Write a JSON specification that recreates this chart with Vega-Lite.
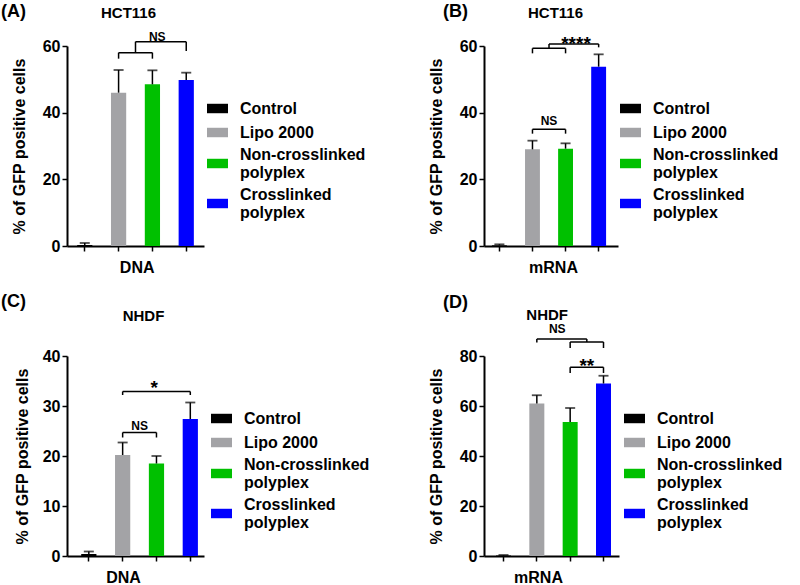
{
  "$schema": "https://vega.github.io/schema/vega-lite/v6.json",
  "background": "white",
  "padding": {"left": 1, "top": 3, "right": 0, "bottom": 0},
  "config": {
    "view": {"stroke": null},
    "font": "Liberation Sans",
    "axis": {"domainColor": "black", "domainWidth": 2, "tickColor": "black", "tickWidth": 1.5, "tickSize": 5, "labelFont": "Liberation Sans", "labelFontSize": 16, "labelFontWeight": "bold", "labelColor": "black", "labelPadding": 2, "titleFont": "Liberation Sans", "titleFontSize": 16, "titleFontWeight": "bold", "titleColor": "black", "grid": false},
    "legend": {"labelFont": "Liberation Sans", "labelFontSize": 16, "labelFontWeight": "bold", "labelColor": "black", "labelOffset": 12, "labelLimit": 300, "symbolStrokeWidth": 0, "rowPadding": 5, "padding": 0},
    "title": {"font": "Liberation Sans", "fontSize": 18, "fontWeight": "bold", "color": "black"}
  },
  "datasets": {
    "a_bars": [
      {"group": "Control", "value": 0.3, "upper": 0.9},
      {"group": "Lipo 2000", "value": 46.0, "upper": 52.8},
      {"group": "Non-crosslinked polyplex", "value": 48.5, "upper": 52.7},
      {"group": "Crosslinked polyplex", "value": 49.8, "upper": 52.0}
    ],
    "b_bars": [
      {"group": "Control", "value": 0.2, "upper": 0.5},
      {"group": "Lipo 2000", "value": 29.0, "upper": 31.6},
      {"group": "Non-crosslinked polyplex", "value": 29.2, "upper": 30.8},
      {"group": "Crosslinked polyplex", "value": 53.8, "upper": 57.5}
    ],
    "c_bars": [
      {"group": "Control", "value": 0.4, "upper": 0.9},
      {"group": "Lipo 2000", "value": 20.2, "upper": 22.7},
      {"group": "Non-crosslinked polyplex", "value": 18.5, "upper": 20.0},
      {"group": "Crosslinked polyplex", "value": 27.4, "upper": 30.7}
    ],
    "d_bars": [
      {"group": "Control", "value": 0.2, "upper": 0.4},
      {"group": "Lipo 2000", "value": 61.0, "upper": 64.3},
      {"group": "Non-crosslinked polyplex", "value": 53.6, "upper": 59.2},
      {"group": "Crosslinked polyplex", "value": 69.0, "upper": 72.1}
    ],
    "a_br": [
      {"kind": "c", "from": "Lipo 2000", "to": "Non-crosslinked polyplex", "y": 58.0, "y2": 58.0},
      {"kind": "c", "from": "Lipo 2000", "to": "Lipo 2000", "y": 58.0, "y2": 56.2},
      {"kind": "c", "from": "Non-crosslinked polyplex", "to": "Non-crosslinked polyplex", "y": 58.0, "y2": 56.2},
      {"kind": "c", "from": "Crosslinked polyplex", "to": "Crosslinked polyplex", "y": 61.3, "y2": 58.5},
      {"kind": "mh", "from": "Lipo 2000", "to": "Crosslinked polyplex", "y": 61.3, "y2": 61.3},
      {"kind": "mv", "from": "Lipo 2000", "to": "Lipo 2000", "y": 61.3, "y2": 58.0}
    ],
    "b_br": [
      {"kind": "c", "from": "Lipo 2000", "to": "Non-crosslinked polyplex", "y": 59.3, "y2": 59.3},
      {"kind": "c", "from": "Lipo 2000", "to": "Lipo 2000", "y": 59.3, "y2": 57.8},
      {"kind": "c", "from": "Non-crosslinked polyplex", "to": "Non-crosslinked polyplex", "y": 59.3, "y2": 57.8},
      {"kind": "c", "from": "Crosslinked polyplex", "to": "Crosslinked polyplex", "y": 60.6, "y2": 59.6},
      {"kind": "mh", "from": "Lipo 2000", "to": "Crosslinked polyplex", "y": 60.6, "y2": 60.6},
      {"kind": "mv", "from": "Lipo 2000", "to": "Lipo 2000", "y": 60.6, "y2": 59.3},
      {"kind": "c", "from": "Lipo 2000", "to": "Non-crosslinked polyplex", "y": 35.0, "y2": 35.0},
      {"kind": "c", "from": "Lipo 2000", "to": "Lipo 2000", "y": 35.0, "y2": 33.7},
      {"kind": "c", "from": "Non-crosslinked polyplex", "to": "Non-crosslinked polyplex", "y": 35.0, "y2": 33.7}
    ],
    "c_br": [
      {"kind": "c", "from": "Lipo 2000", "to": "Crosslinked polyplex", "y": 32.9, "y2": 32.9},
      {"kind": "c", "from": "Lipo 2000", "to": "Lipo 2000", "y": 32.9, "y2": 32.2},
      {"kind": "c", "from": "Crosslinked polyplex", "to": "Crosslinked polyplex", "y": 32.9, "y2": 32.2},
      {"kind": "c", "from": "Lipo 2000", "to": "Non-crosslinked polyplex", "y": 24.7, "y2": 24.7},
      {"kind": "c", "from": "Lipo 2000", "to": "Lipo 2000", "y": 24.7, "y2": 23.7},
      {"kind": "c", "from": "Non-crosslinked polyplex", "to": "Non-crosslinked polyplex", "y": 24.7, "y2": 23.7}
    ],
    "d_br": [
      {"kind": "c", "from": "Lipo 2000", "to": "Lipo 2000", "y": 86.8, "y2": 85.4},
      {"kind": "mh", "from": "Non-crosslinked polyplex", "to": "Lipo 2000", "y": 86.8, "y2": 86.8},
      {"kind": "mv", "from": "Non-crosslinked polyplex", "to": "Non-crosslinked polyplex", "y": 86.8, "y2": 85.6},
      {"kind": "c", "from": "Non-crosslinked polyplex", "to": "Crosslinked polyplex", "y": 85.6, "y2": 85.6},
      {"kind": "c", "from": "Non-crosslinked polyplex", "to": "Non-crosslinked polyplex", "y": 85.6, "y2": 83.2},
      {"kind": "c", "from": "Crosslinked polyplex", "to": "Crosslinked polyplex", "y": 85.6, "y2": 83.2},
      {"kind": "c", "from": "Non-crosslinked polyplex", "to": "Crosslinked polyplex", "y": 75.5, "y2": 75.5},
      {"kind": "c", "from": "Non-crosslinked polyplex", "to": "Non-crosslinked polyplex", "y": 75.5, "y2": 73.2},
      {"kind": "c", "from": "Crosslinked polyplex", "to": "Crosslinked polyplex", "y": 75.5, "y2": 73.2}
    ],
    "a_tx": [{"label": "NS", "at": "Non-crosslinked polyplex", "y": 61.5}],
    "b_tx": [{"label": "NS", "at": "Lipo 2000", "y": 36.2}, {"label": "****", "at": "Non-crosslinked polyplex", "y": 58.9}],
    "c_tx": [{"label": "NS", "at": "Lipo 2000", "y": 25.3}, {"label": "*", "at": "Non-crosslinked polyplex", "y": 32.5}],
    "d_tx": [{"label": "NS", "at": "Lipo 2000", "y": 89.2}, {"label": "**", "at": "Non-crosslinked polyplex", "y": 73.8}]
  },
  "columns": 2,
  "spacing": {"row": 110, "column": 280},
  "bounds": "flush",
  "resolve": {"scale": {"color": "independent", "x": "independent", "y": "independent"}},
  "concat": [
    {
      "width": 137, "height": 200,
      "title": {"text": "(A)", "anchor": "start", "frame": "group", "dx": -66, "offset": -16},
      "resolve": {"axis": {"x": "independent"}},
      "layer": [
        {"data": {"name": "a_bars"}, "mark": {"type": "bar"}, "encoding": {
          "x": {"field": "group", "type": "nominal", "scale": {"domain": ["Control", "Lipo 2000", "Non-crosslinked polyplex", "Crosslinked polyplex"], "paddingInner": 0.55, "paddingOuter": 0.3}, "axis": {"orient": "bottom", "title": "DNA", "labels": false, "titlePadding": 8, "titleX": 69.7}},
          "y": {"field": "value", "type": "quantitative", "title": "% of GFP positive cells", "scale": {"domain": [0, 60]}, "axis": {"values": [0, 20, 40, 60], "titlePadding": 15}},
          "color": {"field": "group", "type": "nominal", "scale": {"domain": ["Control", "Lipo 2000", "Non-crosslinked polyplex", "Crosslinked polyplex"], "range": ["#000000", "#a3a3a6", "#00c000", "#0000ff"]}, "legend": {"title": null, "orient": "none", "legendX": 140, "legendY": 52, "symbolType": "M-1,-0.45H1V0.45H-1Z", "symbolSize": 441, "symbolOpacity": 1, "labelExpr": "indexof(datum.label, ' polyplex') > 0 ? [replace(datum.label, ' polyplex', ''), 'polyplex'] : datum.label", "encode": {"labels": {"update": {"dy": {"signal": "indexof(datum.label, ' polyplex') > 0 ? -9 : 0"}}}}}}
        }},
        {"data": {"name": "a_bars"}, "mark": {"type": "rule", "color": "black", "strokeWidth": 1.5}, "encoding": {
          "x": {"field": "group", "type": "nominal", "scale": {"domain": ["Control", "Lipo 2000", "Non-crosslinked polyplex", "Crosslinked polyplex"]}, "axis": {"orient": "top", "title": "HCT116", "domain": false, "ticks": false, "labels": false, "titlePadding": 26, "titleX": 61, "titleFontSize": 15}},
          "y": {"field": "value", "type": "quantitative", "title": "% of GFP positive cells", "scale": {"domain": [0, 60]}},
          "y2": {"field": "upper"}
        }},
        {"data": {"name": "a_bars"}, "mark": {"type": "tick", "color": "black", "thickness": 1.8, "size": 10}, "encoding": {
          "x": {"field": "group", "type": "nominal", "scale": {"domain": ["Control", "Lipo 2000", "Non-crosslinked polyplex", "Crosslinked polyplex"]}, "axis": null},
          "y": {"field": "upper", "type": "quantitative", "title": "% of GFP positive cells", "scale": {"domain": [0, 60]}}
        }},
        {"data": {"name": "a_br"}, "transform": [{"filter": "datum.kind == 'c'"}], "mark": {"type": "rule", "color": "black", "strokeWidth": 1.5}, "encoding": {
          "x": {"field": "from", "type": "nominal", "bandPosition": 0.5, "scale": {"domain": ["Control", "Lipo 2000", "Non-crosslinked polyplex", "Crosslinked polyplex"]}, "axis": null},
          "x2": {"field": "to", "bandPosition": 0.5},
          "y": {"field": "y", "type": "quantitative", "title": "% of GFP positive cells", "scale": {"domain": [0, 60]}},
          "y2": {"field": "y2"}
        }},
        {"data": {"name": "a_br"}, "transform": [{"filter": "datum.kind == 'mh'"}], "mark": {"type": "rule", "color": "black", "strokeWidth": 1.5}, "encoding": {
          "x": {"field": "from", "type": "nominal", "bandPosition": 1.611, "scale": {"domain": ["Control", "Lipo 2000", "Non-crosslinked polyplex", "Crosslinked polyplex"]}, "axis": null},
          "x2": {"field": "to", "bandPosition": 0.5},
          "y": {"field": "y", "type": "quantitative", "title": "% of GFP positive cells", "scale": {"domain": [0, 60]}},
          "y2": {"field": "y2"}
        }},
        {"data": {"name": "a_br"}, "transform": [{"filter": "datum.kind == 'mv'"}], "mark": {"type": "rule", "color": "black", "strokeWidth": 1.5}, "encoding": {
          "x": {"field": "from", "type": "nominal", "bandPosition": 1.611, "scale": {"domain": ["Control", "Lipo 2000", "Non-crosslinked polyplex", "Crosslinked polyplex"]}, "axis": null},
          "y": {"field": "y", "type": "quantitative", "title": "% of GFP positive cells", "scale": {"domain": [0, 60]}},
          "y2": {"field": "y2"}
        }},
        {"data": {"name": "a_tx"}, "mark": {"type": "text", "fontSize": 12, "fontWeight": "bold", "baseline": "alphabetic", "color": "black"}, "encoding": {
          "x": {"field": "at", "type": "nominal", "bandPosition": 0.82, "scale": {"domain": ["Control", "Lipo 2000", "Non-crosslinked polyplex", "Crosslinked polyplex"]}, "axis": null},
          "y": {"field": "y", "type": "quantitative", "title": "% of GFP positive cells", "scale": {"domain": [0, 60]}},
          "text": {"field": "label"}
        }}
      ]
    },
    {
      "width": 134, "height": 200,
      "title": {"text": "(B)", "anchor": "start", "frame": "group", "dx": -41, "offset": -16},
      "resolve": {"axis": {"x": "independent"}},
      "layer": [
        {"data": {"name": "b_bars"}, "mark": {"type": "bar"}, "encoding": {
          "x": {"field": "group", "type": "nominal", "scale": {"domain": ["Control", "Lipo 2000", "Non-crosslinked polyplex", "Crosslinked polyplex"], "paddingInner": 0.55, "paddingOuter": 0.3, "align": 0.4}, "axis": {"orient": "bottom", "title": "mRNA", "labels": false, "titlePadding": 8, "titleX": 69}},
          "y": {"field": "value", "type": "quantitative", "title": "% of GFP positive cells", "scale": {"domain": [0, 60]}, "axis": {"values": [0, 20, 40, 60], "titlePadding": 15}},
          "color": {"field": "group", "type": "nominal", "scale": {"domain": ["Control", "Lipo 2000", "Non-crosslinked polyplex", "Crosslinked polyplex"], "range": ["#000000", "#a3a3a6", "#00c000", "#0000ff"]}, "legend": {"title": null, "orient": "none", "legendX": 136, "legendY": 52, "symbolType": "M-1,-0.45H1V0.45H-1Z", "symbolSize": 441, "symbolOpacity": 1, "labelExpr": "indexof(datum.label, ' polyplex') > 0 ? [replace(datum.label, ' polyplex', ''), 'polyplex'] : datum.label", "encode": {"labels": {"update": {"dy": {"signal": "indexof(datum.label, ' polyplex') > 0 ? -9 : 0"}}}}}}
        }},
        {"data": {"name": "b_bars"}, "mark": {"type": "rule", "color": "black", "strokeWidth": 1.5}, "encoding": {
          "x": {"field": "group", "type": "nominal", "scale": {"domain": ["Control", "Lipo 2000", "Non-crosslinked polyplex", "Crosslinked polyplex"]}, "axis": {"orient": "top", "title": "HCT116", "domain": false, "ticks": false, "labels": false, "titlePadding": 26, "titleX": 71, "titleFontSize": 15}},
          "y": {"field": "value", "type": "quantitative", "title": "% of GFP positive cells", "scale": {"domain": [0, 60]}},
          "y2": {"field": "upper"}
        }},
        {"data": {"name": "b_bars"}, "mark": {"type": "tick", "color": "black", "thickness": 1.8, "size": 10}, "encoding": {
          "x": {"field": "group", "type": "nominal", "scale": {"domain": ["Control", "Lipo 2000", "Non-crosslinked polyplex", "Crosslinked polyplex"]}, "axis": null},
          "y": {"field": "upper", "type": "quantitative", "title": "% of GFP positive cells", "scale": {"domain": [0, 60]}}
        }},
        {"data": {"name": "b_br"}, "transform": [{"filter": "datum.kind == 'c'"}], "mark": {"type": "rule", "color": "black", "strokeWidth": 1.5}, "encoding": {
          "x": {"field": "from", "type": "nominal", "bandPosition": 0.5, "scale": {"domain": ["Control", "Lipo 2000", "Non-crosslinked polyplex", "Crosslinked polyplex"]}, "axis": null},
          "x2": {"field": "to", "bandPosition": 0.5},
          "y": {"field": "y", "type": "quantitative", "title": "% of GFP positive cells", "scale": {"domain": [0, 60]}},
          "y2": {"field": "y2"}
        }},
        {"data": {"name": "b_br"}, "transform": [{"filter": "datum.kind == 'mh'"}], "mark": {"type": "rule", "color": "black", "strokeWidth": 1.5}, "encoding": {
          "x": {"field": "from", "type": "nominal", "bandPosition": 1.611, "scale": {"domain": ["Control", "Lipo 2000", "Non-crosslinked polyplex", "Crosslinked polyplex"]}, "axis": null},
          "x2": {"field": "to", "bandPosition": 0.5},
          "y": {"field": "y", "type": "quantitative", "title": "% of GFP positive cells", "scale": {"domain": [0, 60]}},
          "y2": {"field": "y2"}
        }},
        {"data": {"name": "b_br"}, "transform": [{"filter": "datum.kind == 'mv'"}], "mark": {"type": "rule", "color": "black", "strokeWidth": 1.5}, "encoding": {
          "x": {"field": "from", "type": "nominal", "bandPosition": 1.611, "scale": {"domain": ["Control", "Lipo 2000", "Non-crosslinked polyplex", "Crosslinked polyplex"]}, "axis": null},
          "y": {"field": "y", "type": "quantitative", "title": "% of GFP positive cells", "scale": {"domain": [0, 60]}},
          "y2": {"field": "y2"}
        }},
        {"data": {"name": "b_tx"}, "transform": [{"filter": "datum.label == 'NS'"}], "mark": {"type": "text", "fontSize": 12, "fontWeight": "bold", "baseline": "alphabetic", "color": "black"}, "encoding": {
          "x": {"field": "at", "type": "nominal", "bandPosition": 1.611, "scale": {"domain": ["Control", "Lipo 2000", "Non-crosslinked polyplex", "Crosslinked polyplex"]}, "axis": null},
          "y": {"field": "y", "type": "quantitative", "title": "% of GFP positive cells", "scale": {"domain": [0, 60]}},
          "text": {"field": "label"}
        }},
        {"data": {"name": "b_tx"}, "transform": [{"filter": "datum.label != 'NS'"}], "mark": {"type": "text", "fontSize": 19, "fontWeight": "bold", "baseline": "alphabetic", "color": "black"}, "encoding": {
          "x": {"field": "at", "type": "nominal", "bandPosition": 1.2, "scale": {"domain": ["Control", "Lipo 2000", "Non-crosslinked polyplex", "Crosslinked polyplex"]}, "axis": null},
          "y": {"field": "y", "type": "quantitative", "title": "% of GFP positive cells", "scale": {"domain": [0, 60]}},
          "text": {"field": "label"}
        }}
      ]
    },
    {
      "width": 137, "height": 200,
      "title": {"text": "(C)", "anchor": "start", "frame": "group", "dx": -66, "offset": -3},
      "resolve": {"axis": {"x": "independent"}},
      "layer": [
        {"data": {"name": "c_bars"}, "mark": {"type": "bar"}, "encoding": {
          "x": {"field": "group", "type": "nominal", "scale": {"domain": ["Control", "Lipo 2000", "Non-crosslinked polyplex", "Crosslinked polyplex"], "paddingInner": 0.55, "paddingOuter": 0.3, "align": 0.7}, "axis": {"orient": "bottom", "title": "DNA", "labels": false, "titlePadding": 8, "titleX": 56}},
          "y": {"field": "value", "type": "quantitative", "title": "% of GFP positive cells", "scale": {"domain": [0, 40]}, "axis": {"values": [0, 10, 20, 30, 40], "titlePadding": 12}},
          "color": {"field": "group", "type": "nominal", "scale": {"domain": ["Control", "Lipo 2000", "Non-crosslinked polyplex", "Crosslinked polyplex"], "range": ["#000000", "#a3a3a6", "#00c000", "#0000ff"]}, "legend": {"title": null, "orient": "none", "legendX": 144, "legendY": 52, "symbolType": "M-1,-0.45H1V0.45H-1Z", "symbolSize": 441, "symbolOpacity": 1, "labelExpr": "indexof(datum.label, ' polyplex') > 0 ? [replace(datum.label, ' polyplex', ''), 'polyplex'] : datum.label", "encode": {"labels": {"update": {"dy": {"signal": "indexof(datum.label, ' polyplex') > 0 ? -9 : 0"}}}}}}
        }},
        {"data": {"name": "c_bars"}, "mark": {"type": "rule", "color": "black", "strokeWidth": 1.5}, "encoding": {
          "x": {"field": "group", "type": "nominal", "scale": {"domain": ["Control", "Lipo 2000", "Non-crosslinked polyplex", "Crosslinked polyplex"]}, "axis": {"orient": "top", "title": "NHDF", "domain": false, "ticks": false, "labels": false, "titlePadding": 33, "titleX": 76, "titleFontSize": 15}},
          "y": {"field": "value", "type": "quantitative", "title": "% of GFP positive cells", "scale": {"domain": [0, 40]}},
          "y2": {"field": "upper"}
        }},
        {"data": {"name": "c_bars"}, "mark": {"type": "tick", "color": "black", "thickness": 1.8, "size": 10}, "encoding": {
          "x": {"field": "group", "type": "nominal", "scale": {"domain": ["Control", "Lipo 2000", "Non-crosslinked polyplex", "Crosslinked polyplex"]}, "axis": null},
          "y": {"field": "upper", "type": "quantitative", "title": "% of GFP positive cells", "scale": {"domain": [0, 40]}}
        }},
        {"data": {"name": "c_br"}, "transform": [{"filter": "datum.kind == 'c'"}], "mark": {"type": "rule", "color": "black", "strokeWidth": 1.5}, "encoding": {
          "x": {"field": "from", "type": "nominal", "bandPosition": 0.5, "scale": {"domain": ["Control", "Lipo 2000", "Non-crosslinked polyplex", "Crosslinked polyplex"]}, "axis": null},
          "x2": {"field": "to", "bandPosition": 0.5},
          "y": {"field": "y", "type": "quantitative", "title": "% of GFP positive cells", "scale": {"domain": [0, 40]}},
          "y2": {"field": "y2"}
        }},
        {"data": {"name": "c_tx"}, "transform": [{"filter": "datum.label == 'NS'"}], "mark": {"type": "text", "fontSize": 12, "fontWeight": "bold", "baseline": "alphabetic", "color": "black"}, "encoding": {
          "x": {"field": "at", "type": "nominal", "bandPosition": 1.611, "scale": {"domain": ["Control", "Lipo 2000", "Non-crosslinked polyplex", "Crosslinked polyplex"]}, "axis": null},
          "y": {"field": "y", "type": "quantitative", "title": "% of GFP positive cells", "scale": {"domain": [0, 40]}},
          "text": {"field": "label"}
        }},
        {"data": {"name": "c_tx"}, "transform": [{"filter": "datum.label != 'NS'"}], "mark": {"type": "text", "fontSize": 19, "fontWeight": "bold", "baseline": "alphabetic", "color": "black"}, "encoding": {
          "x": {"field": "at", "type": "nominal", "bandPosition": 0.35, "scale": {"domain": ["Control", "Lipo 2000", "Non-crosslinked polyplex", "Crosslinked polyplex"]}, "axis": null},
          "y": {"field": "y", "type": "quantitative", "title": "% of GFP positive cells", "scale": {"domain": [0, 40]}},
          "text": {"field": "label"}
        }}
      ]
    },
    {
      "width": 135, "height": 200,
      "title": {"text": "(D)", "anchor": "start", "frame": "group", "dx": -41, "offset": -5},
      "resolve": {"axis": {"x": "independent"}},
      "layer": [
        {"data": {"name": "d_bars"}, "mark": {"type": "bar"}, "encoding": {
          "x": {"field": "group", "type": "nominal", "scale": {"domain": ["Control", "Lipo 2000", "Non-crosslinked polyplex", "Crosslinked polyplex"], "paddingInner": 0.55, "paddingOuter": 0.3, "align": 0.6}, "axis": {"orient": "bottom", "title": "mRNA", "labels": false, "titlePadding": 8, "titleX": 54}},
          "y": {"field": "value", "type": "quantitative", "title": "% of GFP positive cells", "scale": {"domain": [0, 80]}, "axis": {"values": [0, 20, 40, 60, 80], "titlePadding": 15}},
          "color": {"field": "group", "type": "nominal", "scale": {"domain": ["Control", "Lipo 2000", "Non-crosslinked polyplex", "Crosslinked polyplex"], "range": ["#000000", "#a3a3a6", "#00c000", "#0000ff"]}, "legend": {"title": null, "orient": "none", "legendX": 140, "legendY": 52, "symbolType": "M-1,-0.45H1V0.45H-1Z", "symbolSize": 441, "symbolOpacity": 1, "labelExpr": "indexof(datum.label, ' polyplex') > 0 ? [replace(datum.label, ' polyplex', ''), 'polyplex'] : datum.label", "encode": {"labels": {"update": {"dy": {"signal": "indexof(datum.label, ' polyplex') > 0 ? -9 : 0"}}}}}}
        }},
        {"data": {"name": "d_bars"}, "mark": {"type": "rule", "color": "black", "strokeWidth": 1.5}, "encoding": {
          "x": {"field": "group", "type": "nominal", "scale": {"domain": ["Control", "Lipo 2000", "Non-crosslinked polyplex", "Crosslinked polyplex"]}, "axis": {"orient": "top", "title": "NHDF", "domain": false, "ticks": false, "labels": false, "titlePadding": 34, "titleX": 62.7, "titleFontSize": 15}},
          "y": {"field": "value", "type": "quantitative", "title": "% of GFP positive cells", "scale": {"domain": [0, 80]}},
          "y2": {"field": "upper"}
        }},
        {"data": {"name": "d_bars"}, "mark": {"type": "tick", "color": "black", "thickness": 1.8, "size": 10}, "encoding": {
          "x": {"field": "group", "type": "nominal", "scale": {"domain": ["Control", "Lipo 2000", "Non-crosslinked polyplex", "Crosslinked polyplex"]}, "axis": null},
          "y": {"field": "upper", "type": "quantitative", "title": "% of GFP positive cells", "scale": {"domain": [0, 80]}}
        }},
        {"data": {"name": "d_br"}, "transform": [{"filter": "datum.kind == 'c'"}], "mark": {"type": "rule", "color": "black", "strokeWidth": 1.5}, "encoding": {
          "x": {"field": "from", "type": "nominal", "bandPosition": 0.5, "scale": {"domain": ["Control", "Lipo 2000", "Non-crosslinked polyplex", "Crosslinked polyplex"]}, "axis": null},
          "x2": {"field": "to", "bandPosition": 0.5},
          "y": {"field": "y", "type": "quantitative", "title": "% of GFP positive cells", "scale": {"domain": [0, 80]}},
          "y2": {"field": "y2"}
        }},
        {"data": {"name": "d_br"}, "transform": [{"filter": "datum.kind == 'mh'"}], "mark": {"type": "rule", "color": "black", "strokeWidth": 1.5}, "encoding": {
          "x": {"field": "from", "type": "nominal", "bandPosition": 1.611, "scale": {"domain": ["Control", "Lipo 2000", "Non-crosslinked polyplex", "Crosslinked polyplex"]}, "axis": null},
          "x2": {"field": "to", "bandPosition": 0.5},
          "y": {"field": "y", "type": "quantitative", "title": "% of GFP positive cells", "scale": {"domain": [0, 80]}},
          "y2": {"field": "y2"}
        }},
        {"data": {"name": "d_br"}, "transform": [{"filter": "datum.kind == 'mv'"}], "mark": {"type": "rule", "color": "black", "strokeWidth": 1.5}, "encoding": {
          "x": {"field": "from", "type": "nominal", "bandPosition": 1.611, "scale": {"domain": ["Control", "Lipo 2000", "Non-crosslinked polyplex", "Crosslinked polyplex"]}, "axis": null},
          "y": {"field": "y", "type": "quantitative", "title": "% of GFP positive cells", "scale": {"domain": [0, 80]}},
          "y2": {"field": "y2"}
        }},
        {"data": {"name": "d_tx"}, "transform": [{"filter": "datum.label == 'NS'"}], "mark": {"type": "text", "fontSize": 12, "fontWeight": "bold", "baseline": "alphabetic", "color": "black"}, "encoding": {
          "x": {"field": "at", "type": "nominal", "bandPosition": 1.86, "scale": {"domain": ["Control", "Lipo 2000", "Non-crosslinked polyplex", "Crosslinked polyplex"]}, "axis": null},
          "y": {"field": "y", "type": "quantitative", "title": "% of GFP positive cells", "scale": {"domain": [0, 80]}},
          "text": {"field": "label"}
        }},
        {"data": {"name": "d_tx"}, "transform": [{"filter": "datum.label != 'NS'"}], "mark": {"type": "text", "fontSize": 19, "fontWeight": "bold", "baseline": "alphabetic", "color": "black"}, "encoding": {
          "x": {"field": "at", "type": "nominal", "bandPosition": 1.611, "scale": {"domain": ["Control", "Lipo 2000", "Non-crosslinked polyplex", "Crosslinked polyplex"]}, "axis": null},
          "y": {"field": "y", "type": "quantitative", "title": "% of GFP positive cells", "scale": {"domain": [0, 80]}},
          "text": {"field": "label"}
        }}
      ]
    }
  ]
}
